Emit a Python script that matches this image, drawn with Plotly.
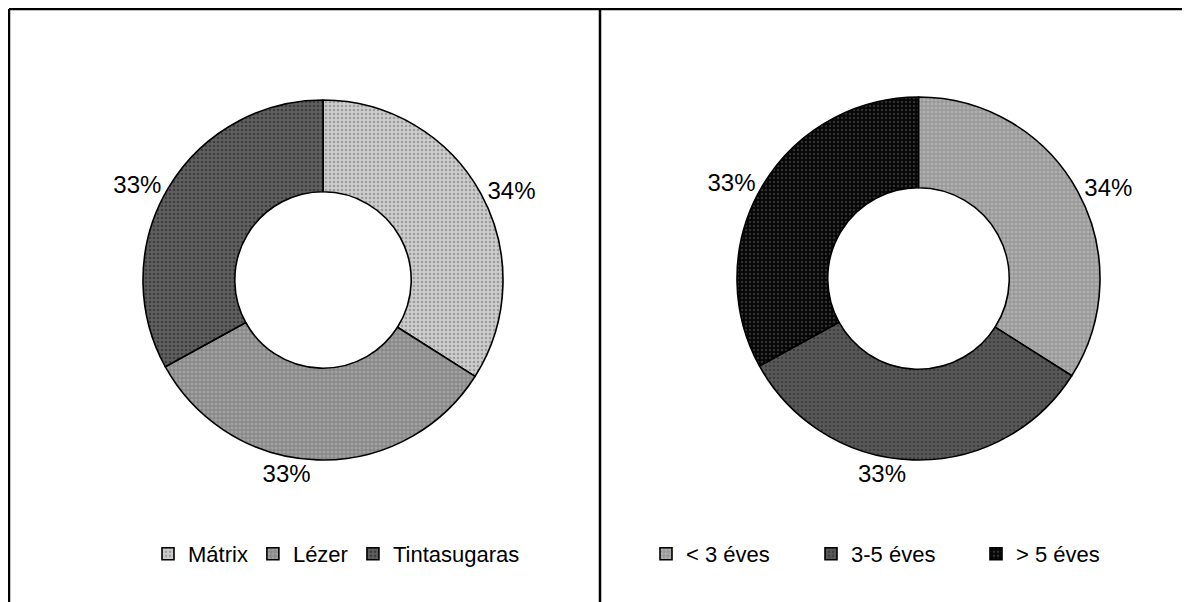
import plotly.graph_objects as go

# ---- data ----
left_labels = ["Mátrix", "Lézer", "Tintasugaras"]
left_values = [34, 33, 33]
right_labels = ["< 3 éves", "3-5 éves", "> 5 éves"]
right_values = [34, 33, 33]

# ---- styles ----
left_bg = ["#cdcdcd", "#a2a2a2", "#606060"]
left_fg = ["#6e6e6e", "#4e4e4e", "#1a1a1a"]
left_shape = [".", "+", "."]
right_bg = ["#b0b0b0", "#585858", "#050505"]
right_fg = ["#555555", "#262626", "#5a5a5a"]
right_shape = ["+", ".", "."]

OFF = 8                      # page body margin of the html page
W, H = 1190 - OFF, 602 - OFF
FONT = "Liberation Sans, Arial, sans-serif"


def px(x):
    return (x - OFF) / W


def py(y):
    return 1 - (y - OFF) / H


fig = go.Figure()

fig.add_trace(go.Pie(
    labels=left_labels, values=left_values,
    hole=0.49, sort=False, direction="clockwise", rotation=0,
    textposition="outside", texttemplate="%{percent:.0%}",
    outsidetextfont=dict(family=FONT, size=24, color="black"),
    marker=dict(colors=left_bg, line=dict(color="black", width=1.6),
                pattern=dict(shape=left_shape, fgcolor=left_fg, bgcolor=left_bg,
                             size=4, solidity=0.35, fillmode="overlay")),
    domain=dict(x=[px(143), px(503)], y=[py(460), py(100)]),
    legend="legend", hoverinfo="label+percent",
))

fig.add_trace(go.Pie(
    labels=right_labels, values=right_values,
    hole=0.5, sort=False, direction="clockwise", rotation=0,
    textposition="outside", texttemplate="%{percent:.0%}",
    outsidetextfont=dict(family=FONT, size=24, color="black"),
    marker=dict(colors=right_bg, line=dict(color="black", width=1.6),
                pattern=dict(shape=right_shape, fgcolor=right_fg, bgcolor=right_bg,
                             size=4, solidity=0.3, fillmode="overlay")),
    domain=dict(x=[px(737), px(1100)], y=[py(460), py(97)]),
    legend="legend2", hoverinfo="label+percent",
))

border = dict(color="black", width=2.5)
shapes = [
    dict(type="line", xref="paper", yref="paper", x0=px(9), x1=px(1188), y0=py(9), y1=py(9), line=border),
    dict(type="line", xref="paper", yref="paper", x0=px(9), x1=px(9), y0=py(9), y1=py(602), line=border),
    dict(type="line", xref="paper", yref="paper", x0=px(600), x1=px(600), y0=py(9), y1=py(602), line=border),
    dict(type="line", xref="paper", yref="paper", x0=px(1187), x1=px(1187), y0=py(9), y1=py(602),
         line=dict(color="#8a8a8a", width=1, dash="dot")),
]

fig.update_layout(
    width=W, height=H,
    margin=dict(l=0, r=0, t=0, b=0),
    paper_bgcolor="white", plot_bgcolor="white",
    font=dict(family=FONT, color="black"),
    shapes=shapes,
    legend=dict(orientation="h", x=px(148), xanchor="left", y=py(554), yanchor="middle",
                font=dict(family=FONT, size=22, color="black"),
                bgcolor="rgba(0,0,0,0)"),
    legend2=dict(orientation="h", x=px(646), xanchor="left", y=py(554), yanchor="middle",
                 font=dict(family=FONT, size=22, color="black"),
                 entrywidthmode="pixels", entrywidth=120, bgcolor="rgba(0,0,0,0)"),
)

fig.write_html("out.html")
